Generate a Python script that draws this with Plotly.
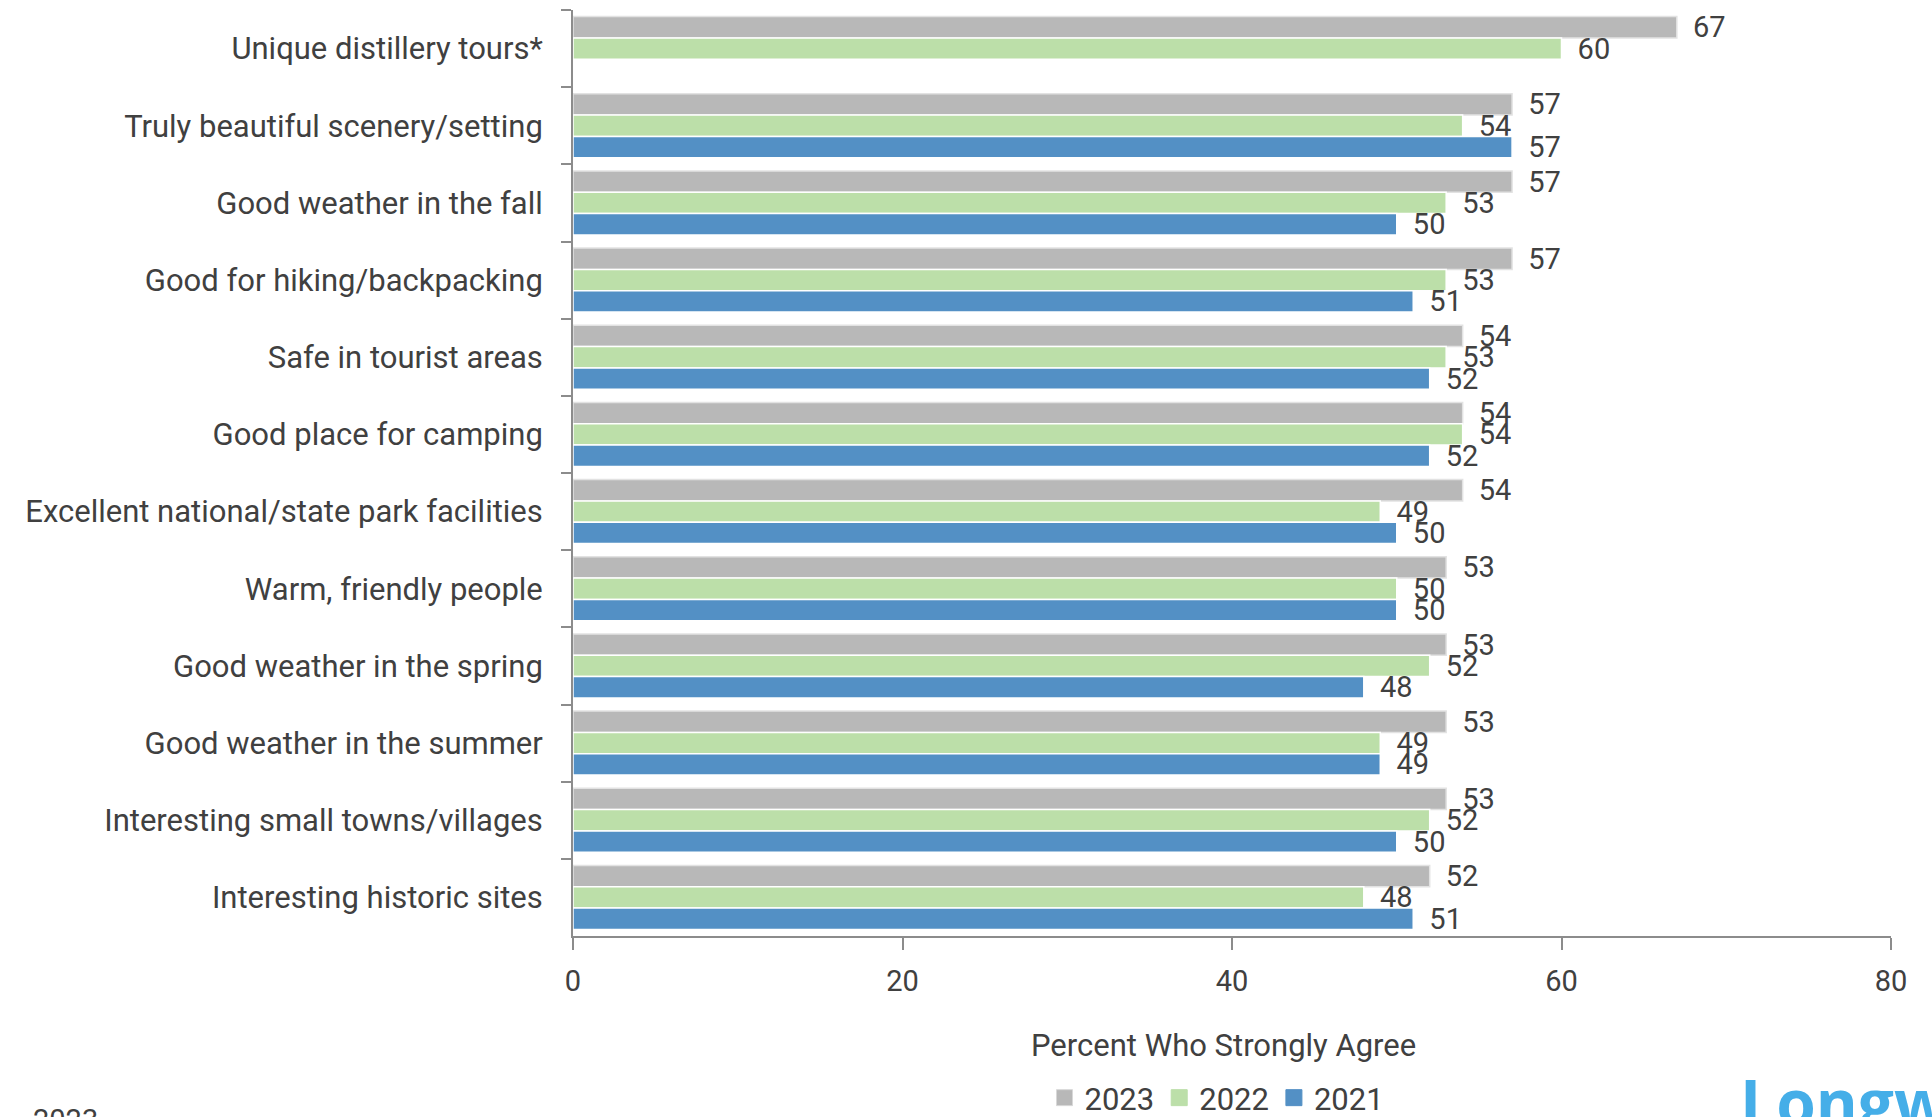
import plotly.graph_objects as go

# Attribute ratings, top to bottom as listed
categories = [
    "Unique distillery tours*",
    "Truly beautiful scenery/setting",
    "Good weather in the fall",
    "Good for hiking/backpacking",
    "Safe in tourist areas",
    "Good place for camping",
    "Excellent national/state park facilities",
    "Warm, friendly people",
    "Good weather in the spring",
    "Good weather in the summer",
    "Interesting small towns/villages",
    "Interesting historic sites",
]

values_2023 = [67, 57, 57, 57, 54, 54, 54, 53, 53, 53, 53, 52]
values_2022 = [60, 54, 53, 53, 53, 54, 49, 50, 52, 49, 52, 48]
values_2021 = [None, 57, 50, 51, 52, 52, 50, 50, 48, 49, 50, 51]

x_ticks = [0, 20, 40, 60, 80]

FONT = "Roboto, sans-serif"
TEXT = "#404040"
AXIS = "#8c8c8c"

# plot-area geometry in pixels
L, R, T, B = 573, 41, 10, 181
W, H = 1932, 1117
PW, PH = W - L - R, H - T - B


def px_x(px):
    return (px - L) / PW


def px_y(py):
    return (H - B - py) / PH


series = [
    ("2023", values_2023, "#b8b8b8", "#e2e2e2"),
    ("2022", values_2022, "#bcdfa9", "#ffffff"),
    ("2021", values_2021, "#5390c5", "#ffffff"),
]

fig = go.Figure()
for name, vals, color, edge in series:
    fig.add_trace(go.Bar(
        name=name,
        y=categories,
        x=vals,
        orientation="h",
        marker=dict(color=color, line=dict(color=edge, width=1.5)),
        text=[None if v is None else f" \u2009{v}" for v in vals],
        textposition="outside",
        textfont=dict(family=FONT, size=29, color=TEXT),
        constraintext="none",
        cliponaxis=False,
        showlegend=False,
        legendgroup=name,
    ))

# Square legend keys
for name, vals, color, edge in series:
    fig.add_trace(go.Scatter(
        name=name,
        x=[None], y=[None],
        mode="markers",
        marker=dict(symbol="square", size=17, color=color,
                    line=dict(color="#d8d8d8" if name == "2023" else color, width=1)),
        legendgroup=name,
        showlegend=True,
    ))

fig.update_layout(
    barmode="group",
    bargap=0.17,
    bargroupgap=0,
    width=W,
    height=H,
    margin=dict(l=L, r=R, t=T, b=B, autoexpand=False),
    paper_bgcolor="white",
    plot_bgcolor="white",
    font=dict(family=FONT, size=29, color=TEXT),
    showlegend=True,
    legend=dict(
        orientation="h",
        x=px_x(1217), xanchor="center",
        y=px_y(1098), yanchor="middle",
        font=dict(family=FONT, size=31, color=TEXT),
        traceorder="normal",
        itemwidth=30,
        itemsizing="trace",
    ),
)

fig.update_yaxes(
    autorange="reversed",
    showline=True, linecolor=AXIS, linewidth=2,
    ticks="outside", tickson="boundaries", ticklen=10, tickcolor=AXIS, tickwidth=2,
    ticklabelstandoff=22,
    tickfont=dict(family=FONT, size=31, color=TEXT),
    showgrid=False,
)

fig.update_xaxes(
    range=[0, 80],
    tickvals=x_ticks,
    showline=True, linecolor=AXIS, linewidth=2,
    ticks="outside", ticklen=12, tickcolor=AXIS, tickwidth=2,
    ticklabelstandoff=6,
    tickfont=dict(family=FONT, size=29, color=TEXT),
    showgrid=False, zeroline=False,
)

# Axis title
fig.add_annotation(
    text="Percent Who Strongly Agree", xref="paper", yref="paper",
    x=px_x(1223), xanchor="center",
    y=px_y(1045), yanchor="middle",
    showarrow=False, font=dict(family=FONT, size=31, color=TEXT),
)

# Source line at the foot of the page and the publisher wordmark
fig.add_annotation(
    text="2023", xref="paper", yref="paper",
    x=px_x(31), xanchor="left",
    y=px_y(1101), yanchor="top",
    showarrow=False, font=dict(family=FONT, size=29, color=TEXT),
)
fig.add_annotation(
    text="<b>Longwoods</b>", xref="paper", yref="paper",
    x=px_x(1738), xanchor="left",
    y=px_y(1056), yanchor="top",
    showarrow=False, font=dict(family="Open Sans, sans-serif", size=64, color="#45aee8"),
)

fig.write_html("out.html")
